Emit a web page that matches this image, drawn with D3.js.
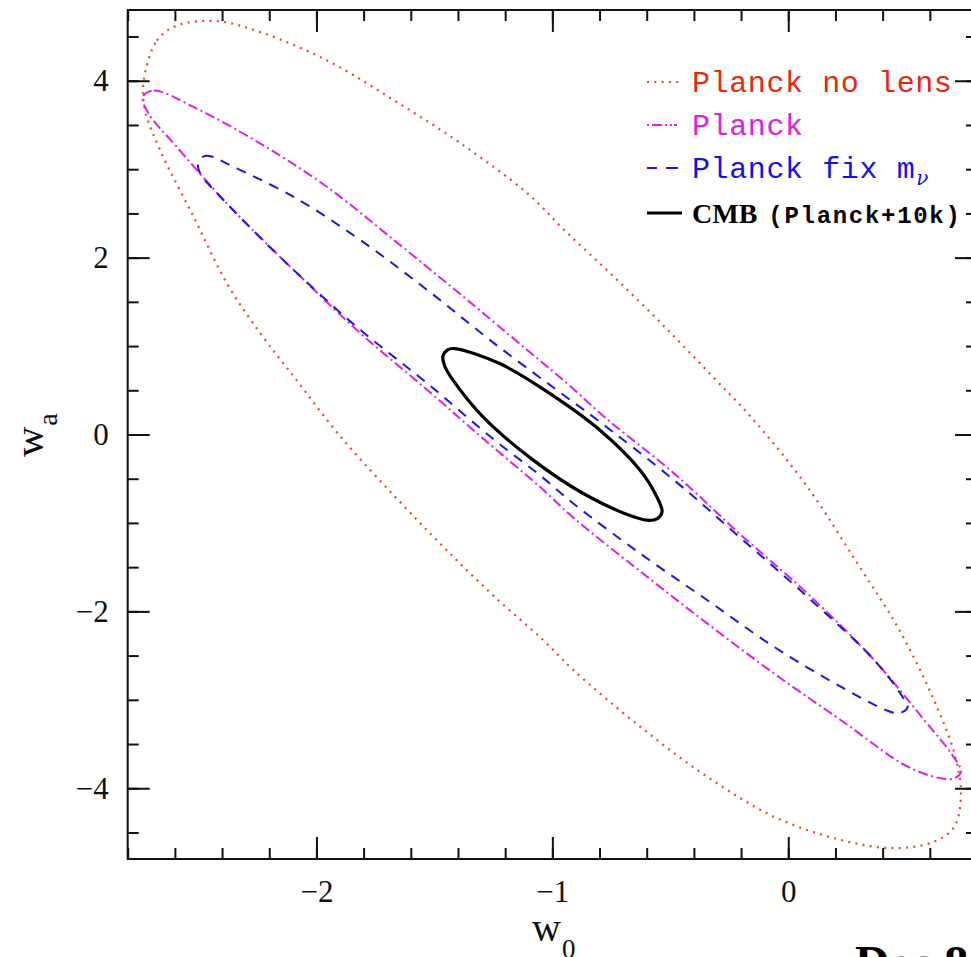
<!DOCTYPE html>
<html><head><meta charset="utf-8">
<script src="https://cdn.jsdelivr.net/npm/d3@7"></script>
<style>body{margin:0;background:#fff;} svg{display:block;}</style>
</head><body><svg id="c" width="971" height="957"></svg>
<script>
// ---- data (w0, wa) ----
const xTickValues = [-2, -1, 0];
const yTickValues = [-4, -2, 0, 2, 4];
const xTickLabels = ["\u22122", "\u22121", "0"];
const yTickLabels = ["\u22124", "\u22122", "0", "2", "4"];

const planckNoLens = [[-2.733,3.984],[-2.676,4.455],[-2.591,4.625],[-2.421,4.673],[-2.237,4.549],[-1.954,4.229],[-1.670,3.777],[-1.387,3.288],[-1.104,2.723],[-0.948,2.308],[-0.755,1.823],[-0.543,1.269],[-0.330,0.681],[-0.146,0.162],[0.081,-0.592],[0.293,-1.458],[0.463,-2.174],[0.605,-2.927],[0.704,-3.605],[0.732,-4.056],[0.704,-4.434],[0.619,-4.603],[0.449,-4.678],[0.222,-4.584],[-0.061,-4.321],[-0.344,-3.869],[-0.628,-3.304],[-0.911,-2.663],[-1.039,-2.324],[-1.248,-1.827],[-1.461,-1.273],[-1.673,-0.686],[-1.897,-0.027],[-2.095,0.651],[-2.237,1.141],[-2.379,1.706],[-2.520,2.459],[-2.662,3.212],[-2.726,3.664]];

const planck = [[-2.736,3.815],[-2.690,3.890],[-2.520,3.702],[-2.237,3.288],[-1.954,2.798],[-1.670,2.195],[-1.387,1.580],[-1.104,0.950],[-0.934,0.569],[-0.769,0.175],[-0.486,-0.435],[-0.203,-1.130],[0.081,-1.797],[0.364,-2.550],[0.576,-3.228],[0.690,-3.605],[0.732,-3.812],[0.704,-3.887],[0.647,-3.887],[0.506,-3.756],[0.222,-3.228],[-0.061,-2.701],[-0.344,-2.136],[-0.628,-1.546],[-0.911,-0.940],[-1.053,-0.592],[-1.302,-0.027],[-1.529,0.501],[-1.812,1.141],[-2.095,1.856],[-2.379,2.610],[-2.591,3.250],[-2.711,3.627]];

const planckFixMnu = [[-2.502,3.043],[-2.478,3.145],[-2.435,3.137],[-2.379,3.062],[-2.095,2.685],[-1.812,2.195],[-1.529,1.631],[-1.245,1.028],[-0.934,0.410],[-0.812,0.170],[-0.486,-0.512],[-0.203,-1.168],[0.081,-1.835],[0.364,-2.550],[0.484,-2.965],[0.506,-3.085],[0.470,-3.153],[0.421,-3.123],[0.222,-2.852],[-0.061,-2.400],[-0.344,-1.872],[-0.628,-1.345],[-0.911,-0.780],[-1.053,-0.460],[-1.245,-0.064],[-1.529,0.576],[-1.812,1.179],[-2.095,1.856],[-2.379,2.610],[-2.492,2.949]];

const cmb = [[-1.464,0.885],[-1.444,0.958],[-1.414,0.972],[-1.223,0.802],[-1.010,0.463],[-0.798,0.049],[-0.628,-0.403],[-0.557,-0.705],[-0.535,-0.875],[-0.555,-0.951],[-0.589,-0.972],[-0.656,-0.931],[-0.869,-0.667],[-1.081,-0.290],[-1.294,0.199],[-1.421,0.614],[-1.456,0.772]];

const seriesNames = ["Planck no lens", "Planck", "Planck fix m", "CMB"];

// ---- styles ----
const styles = [
  {data: planckNoLens, color: "#e8452c", textColor: "#e5290f", width: 2.2, dash: "2,5.3", cap: "butt"},
  {data: planck, color: "#e020e0", textColor: "#e020e0", width: 2, dash: "10,3.5,2,3.5", cap: "butt"},
  {data: planckFixMnu, color: "#1818e0", textColor: "#1414e0", width: 2, dash: "10,8", cap: "butt"},
  {data: cmb, color: "#000", textColor: "#000", width: 3.2, dash: null, cap: "round"}
];

const svg = d3.select("#c");
const x = d3.scaleLinear().domain([-2.8, 0.8]).range([127.7, 977]);
const y = d3.scaleLinear().domain([-4.8, 4.8]).range([859, 10]);

svg.append("defs").append("clipPath").attr("id", "clip")
  .append("rect").attr("x", x(-2.8)).attr("y", y(4.8))
  .attr("width", x(0.8) - x(-2.8)).attr("height", y(-4.8) - y(4.8));

const tickFont = "'Liberation Serif', 'Times New Roman', serif";

// axes (inward ticks on all four sides)
function styleAxis(g) {
  g.select(".domain").remove();
  g.selectAll(".tick line").attr("stroke", "#111").attr("stroke-width", 2);
  g.selectAll("text").attr("font-family", tickFont).attr("font-size", 31).attr("fill", "#111");
}
const minorX = x.ticks(20), minorY = y.ticks(20);

svg.append("g").attr("transform", `translate(0,${y(-4.8)})`)
  .call(d3.axisBottom(x).tickValues(minorX).tickSize(-11).tickFormat("")).call(styleAxis);
svg.append("g").attr("transform", `translate(0,${y(-4.8)})`)
  .call(d3.axisBottom(x).tickValues(xTickValues).tickSize(-22).tickPadding(21)
    .tickFormat((d, i) => xTickLabels[i])).call(styleAxis);
svg.append("g").attr("transform", `translate(0,${y(4.8)})`)
  .call(d3.axisTop(x).tickValues(minorX).tickSize(-11).tickFormat("")).call(styleAxis);
svg.append("g").attr("transform", `translate(0,${y(4.8)})`)
  .call(d3.axisTop(x).tickValues(xTickValues).tickSize(-22).tickFormat("")).call(styleAxis);

svg.append("g").attr("transform", `translate(${x(-2.8)},0)`)
  .call(d3.axisLeft(y).tickValues(minorY).tickSize(-11).tickFormat("")).call(styleAxis);
svg.append("g").attr("transform", `translate(${x(-2.8)},0)`)
  .call(d3.axisLeft(y).tickValues(yTickValues).tickSize(-22).tickPadding(19)
    .tickFormat((d, i) => yTickLabels[i])).call(styleAxis);
svg.append("g").attr("transform", `translate(${x(0.8)},0)`)
  .call(d3.axisRight(y).tickValues(minorY).tickSize(-11).tickFormat("")).call(styleAxis);
svg.append("g").attr("transform", `translate(${x(0.8)},0)`)
  .call(d3.axisRight(y).tickValues(yTickValues).tickSize(-22).tickFormat("")).call(styleAxis);

// frame
svg.append("rect").attr("x", x(-2.8)).attr("y", y(4.8))
  .attr("width", x(0.8) - x(-2.8)).attr("height", y(-4.8) - y(4.8))
  .attr("fill", "none").attr("stroke", "#111").attr("stroke-width", 2);

// contours
const line = d3.line().x(d => x(d[0])).y(d => y(d[1])).curve(d3.curveCatmullRomClosed.alpha(0.5));
const gc = svg.append("g").attr("clip-path", "url(#clip)");
styles.forEach(s => {
  gc.append("path").attr("d", line(s.data)).attr("fill", "none")
    .attr("stroke", s.color).attr("stroke-width", s.width)
    .attr("stroke-dasharray", s.dash).attr("stroke-linecap", s.cap)
    .attr("stroke-linejoin", "round");
});

// legend
const legY = [82, 125, 168, 213];
const lg = svg.append("g");
const monoFont = "'Liberation Mono', 'Courier New', monospace";
styles.forEach((s, i) => {
  const yy = legY[i];
  lg.append("line").attr("x1", 647).attr("x2", i === 3 ? 682 : 681).attr("y1", yy).attr("y2", yy)
    .attr("stroke", s.color).attr("stroke-width", s.width)
    .attr("stroke-dasharray", i === 1 ? "2,3,10,3,2,3,2" : (i === 2 ? "10,9,12" : s.dash))
    .attr("stroke-linecap", "butt");
  const t = lg.append("text").attr("x", 692).attr("y", yy + 10).attr("fill", s.textColor);
  if (i < 3) {
    t.attr("font-family", monoFont).attr("font-size", 30).attr("letter-spacing", 0.6);
    t.append("tspan").text(seriesNames[i]);
    if (i === 2) {
      t.append("tspan").attr("font-family", "'DejaVu Serif', serif").attr("font-style", "italic")
        .attr("font-size", 20).attr("dy", 7).attr("dx", 1).text("\u03bd");
    }
  } else {
    t.append("tspan").attr("font-family", tickFont).attr("font-weight", "bold").attr("font-size", 28).text(seriesNames[i]);
    t.append("tspan").attr("font-family", monoFont).attr("font-weight", "bold").attr("font-size", 24)
      .attr("letter-spacing", 1.7).attr("dx", 11).text("(Planck+10k)");
  }
});

// axis titles
const xt = svg.append("text").attr("x", 532).attr("y", 941).attr("font-family", tickFont).attr("fill", "#111");
xt.append("tspan").attr("font-size", 40).text("w");
xt.append("tspan").attr("font-size", 27).attr("dy", 17).attr("dx", 1).text("0");

const yt = svg.append("text").attr("transform", "translate(43,457) rotate(-90)")
  .attr("font-family", tickFont).attr("fill", "#111");
yt.append("tspan").attr("font-size", 42).text("w");
yt.append("tspan").attr("font-size", 28).attr("dy", 14).attr("dx", 1).text("a");

// partially visible note at bottom right
svg.append("text").attr("x", 855).attr("y", 979).attr("font-family", tickFont)
  .attr("font-weight", "bold").attr("font-size", 48).attr("fill", "#000").text("Dec 8");
</script>
</body></html>
